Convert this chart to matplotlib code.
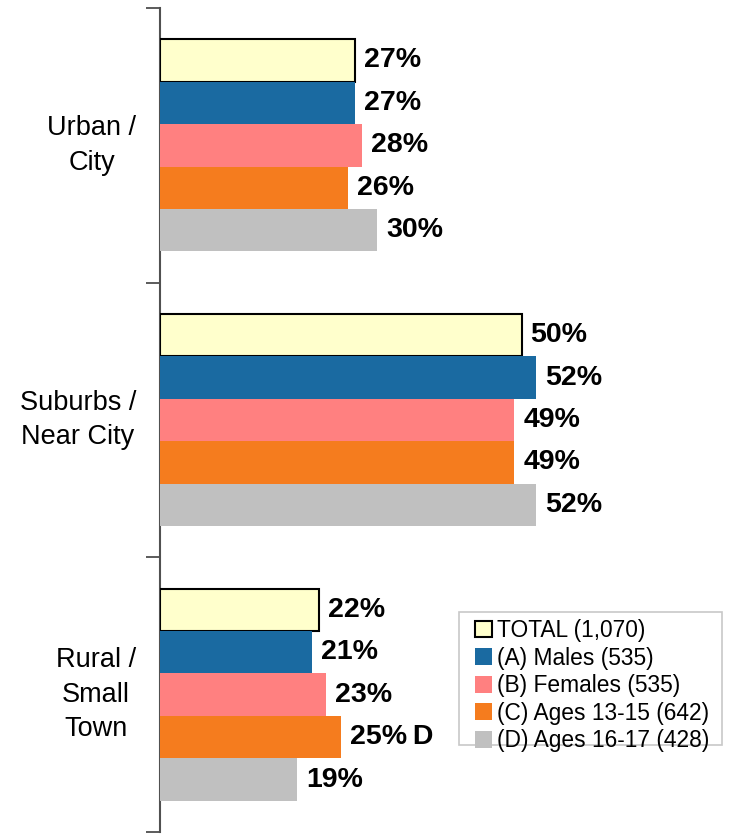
import matplotlib
matplotlib.use('Agg')
import matplotlib.pyplot as plt
from matplotlib.patches import Rectangle
import numpy as np

plt.rcParams['font.family'] = ['Liberation Sans', 'DejaVu Sans']

categories = ['Urban /\nCity', 'Suburbs /\nNear City', 'Rural /\nSmall\nTown']
series_names = ['TOTAL (1,070)', '(A) Males (535)', '(B) Females (535)',
                '(C) Ages 13-15 (642)', '(D) Ages 16-17 (428)']
total = [27, 50, 22]
males = [27, 52, 21]
females = [28, 49, 23]
ages_13_15 = [26, 49, 25]
ages_16_17 = [30, 52, 19]
# significance letters, per series and category
sig = [['', '', ''], ['', '', ''], ['', '', ''], ['', '', 'D'], ['', '', '']]

series = [total, males, females, ages_13_15, ages_16_17]
colors = ['#FFFFCC', '#1A6AA1', '#FF8080', '#F57C1E', '#C0C0C0']
edges = ['black', 'none', 'none', 'none', 'none']

W, H = 730, 835
fig = plt.figure(figsize=(W / 100, H / 100), dpi=100)
ax = fig.add_axes([160 / W, 3 / H, 570 / W, 824 / H])
px = 1 / 7.23  # data units per pixel along x

bar_h = 0.1545
y = np.arange(len(categories))
for i, vals in enumerate(series):
    pos = y + (i - 2) * bar_h
    ax.barh(pos, vals, height=bar_h, color=colors[i], edgecolor=edges[i],
            linewidth=1.5 if edges[i] != 'none' else 0, label=series_names[i], zorder=3)
    for j, v in enumerate(vals):
        txt = '%d%%' % v
        if sig[i][j]:
            txt += '\u2009' + sig[i][j]
        ax.text(v + 9 * px, pos[j], txt, va='center', ha='left', fontsize=20.5,
                fontweight='bold', color='black')

ax.set_xlim(0, 570 * px)
ax.set_ylim(2.5, -0.5)
ax.set_yticks([-0.5, 0.5, 1.5, 2.5])
ax.set_yticklabels([])
ax.tick_params(axis='y', direction='out', length=10, width=1.2, color='#404040')
ax.set_xticks([])
for c, lab in zip(y, categories):
    ax.text(-24 * px, c, lab, ha='right', va='center', multialignment='center',
            fontsize=19.5, linespacing=1.42)
for s in ['top', 'right', 'bottom']:
    ax.spines[s].set_visible(False)
ax.spines['left'].set_color('#505050')
ax.spines['left'].set_linewidth(1.5)

# legend frame drawn by hand so the padding matches the original
ax.add_patch(Rectangle((459 / W, (H - 745) / H), 263 / W, 133 / H,
                       transform=fig.transFigure, facecolor='white', clip_on=False,
                       edgecolor='#C8C8C8', linewidth=1.2, zorder=4))
leg = ax.legend(loc='upper left', bbox_to_anchor=(475 / W, (H - 619) / H),
                bbox_transform=fig.transFigure, borderaxespad=0, fontsize=16.4,
                handlelength=0.75, handleheight=0.75, handletextpad=0.22,
                labelspacing=0.2, borderpad=0.0, frameon=False)
leg.set_zorder(5)

fig.savefig('out.png', dpi=100)
